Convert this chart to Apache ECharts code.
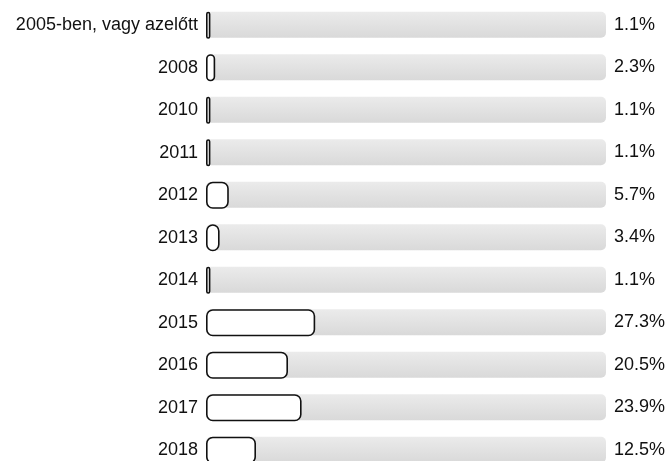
<!DOCTYPE html>
<html><head><meta charset="utf-8">
<script src="https://cdn.jsdelivr.net/npm/echarts@6/dist/echarts.min.js"></script>
<style>html,body{margin:0;padding:0;background:#fff}#c{width:667px;height:461px}</style>
</head><body><div id="c"></div>
<script>
var categories = ["2005-ben, vagy azelőtt","2008","2010","2011","2012","2013","2014","2015","2016","2017","2018"];
var values = [1.1,2.3,1.1,1.1,5.7,3.4,1.1,27.3,20.5,23.9,12.5];
var maxValue = 100;

var chart = echarts.init(document.getElementById('c'));
chart.setOption({
  animation: false,
  grid: {left: 206, right: 61, top: 4, height: 467.5, containLabel: false, outerBoundsMode: 'none'},
  xAxis: {type: 'value', min: 0, max: maxValue, show: false},
  yAxis: {
    type: 'category', data: categories, inverse: true,
    axisLine: {show: false}, axisTick: {show: false},
    axisLabel: {color: '#111', fontSize: 18, fontFamily: 'Liberation Sans, Arial, sans-serif', margin: 8}
  },
  series: [
    {
      type: 'bar', barWidth: 26, silent: true, z: 1,
      data: values.map(function(){return maxValue;}),
      itemStyle: {
        borderRadius: 5,
        color: new echarts.graphic.LinearGradient(0,0,0,1,[{offset:0,color:'#ebebeb'},{offset:1,color:'#d9d9d9'}])
      },
      label: {
        show: true, position: 'right', distance: 8,
        color: '#111', fontSize: 18, fontFamily: 'Liberation Sans, Arial, sans-serif',
        formatter: function(p){ return values[p.dataIndex].toFixed(1) + '%'; }
      }
    },
    {
      type: 'bar', barWidth: 27, barGap: '-100%', z: 2,
      data: values,
      itemStyle: {color: '#fff', borderColor: '#111', borderWidth: 1.6, borderRadius: 6}
    }
  ]
});
</script></body></html>
